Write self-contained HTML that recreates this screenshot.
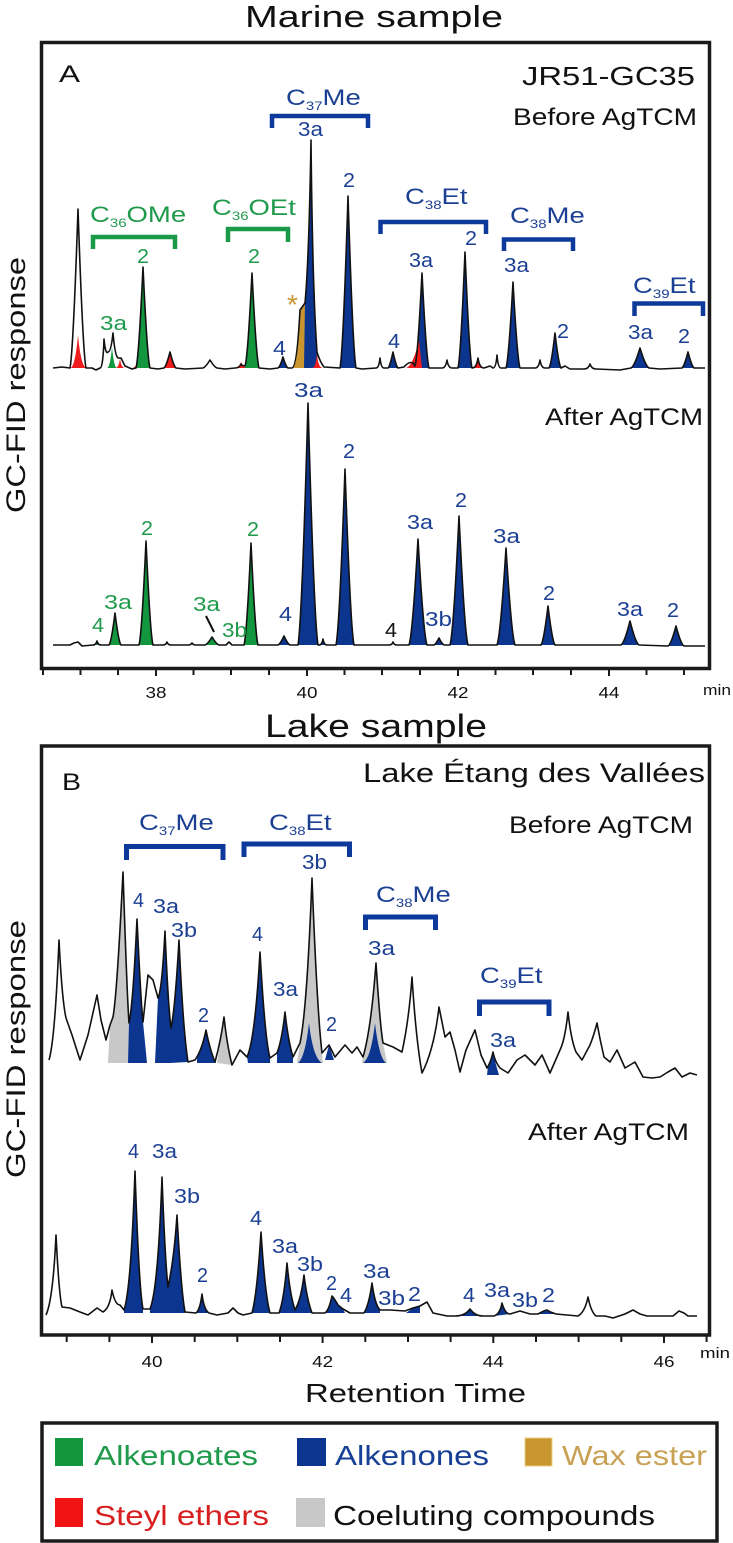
<!DOCTYPE html>
<html>
<head>
<meta charset="utf-8">
<style>
html,body{margin:0;padding:0;background:#fff;}
svg{display:block;}
text{font-family:"Liberation Sans",Arial,sans-serif;}
</style>
</head>
<body>
<svg width="733" height="1543" viewBox="0 0 733 1543" xmlns="http://www.w3.org/2000/svg">
<rect x="0" y="0" width="733" height="1543" fill="#fff"/>

<!-- Titles -->
<text x="245" y="27" font-size="31" fill="#111" textLength="258" lengthAdjust="spacingAndGlyphs">Marine sample</text>
<text x="265" y="737" font-size="32" fill="#111" textLength="222" lengthAdjust="spacingAndGlyphs">Lake sample</text>

<!-- Y labels -->
<text transform="translate(25,385) rotate(-90)" text-anchor="middle" font-size="27" fill="#111" textLength="256" lengthAdjust="spacingAndGlyphs">GC-FID response</text>
<text transform="translate(25,1049) rotate(-90)" text-anchor="middle" font-size="27" fill="#111" textLength="258" lengthAdjust="spacingAndGlyphs">GC-FID response</text>

<!-- Frames -->
<rect x="41.5" y="42.5" width="668" height="626" fill="none" stroke="#1a1a1a" stroke-width="3.5"/>
<rect x="41.5" y="746" width="668" height="589" fill="none" stroke="#1a1a1a" stroke-width="3.5"/>

<!-- Ticks A -->
<path d="M43,668V675 M80.5,668V675 M118,668V675 M156,668V676 M193.5,668V675 M231,668V675 M269,668V675 M307,668V676 M344.5,668V675 M382,668V675 M420,668V675 M458,668V676 M495.5,668V675 M533,668V675 M571,668V675 M609,668V676 M646.5,668V675 M684,668V675" stroke="#1a1a1a" stroke-width="2" fill="none"/>
<text x="156" y="698" font-size="16" text-anchor="middle" fill="#111" textLength="21" lengthAdjust="spacingAndGlyphs">38</text>
<text x="307" y="698" font-size="16" text-anchor="middle" fill="#111" textLength="21" lengthAdjust="spacingAndGlyphs">40</text>
<text x="458" y="698" font-size="16" text-anchor="middle" fill="#111" textLength="21" lengthAdjust="spacingAndGlyphs">42</text>
<text x="609" y="698" font-size="16" text-anchor="middle" fill="#111" textLength="21" lengthAdjust="spacingAndGlyphs">44</text>
<text x="703" y="695" font-size="15" fill="#111" textLength="28" lengthAdjust="spacingAndGlyphs">min</text>

<!-- Ticks B -->
<path d="M66.7,1335V1342 M109.4,1335V1342 M152,1335V1343 M194.7,1335V1342 M237.3,1335V1342 M280,1335V1342 M322.6,1335V1343 M365.3,1335V1342 M408,1335V1342 M450.6,1335V1342 M493.3,1335V1343 M536,1335V1342 M578.6,1335V1342 M621.3,1335V1342 M664,1335V1343 M706.6,1335V1342" stroke="#1a1a1a" stroke-width="2" fill="none"/>
<text x="152" y="1367" font-size="16" text-anchor="middle" fill="#111" textLength="21" lengthAdjust="spacingAndGlyphs">40</text>
<text x="322.6" y="1367" font-size="16" text-anchor="middle" fill="#111" textLength="21" lengthAdjust="spacingAndGlyphs">42</text>
<text x="493.3" y="1367" font-size="16" text-anchor="middle" fill="#111" textLength="21" lengthAdjust="spacingAndGlyphs">44</text>
<text x="664" y="1367" font-size="16" text-anchor="middle" fill="#111" textLength="21" lengthAdjust="spacingAndGlyphs">46</text>
<text x="700" y="1358" font-size="15" fill="#111" textLength="30" lengthAdjust="spacingAndGlyphs">min</text>

<text x="305" y="1402" font-size="26" fill="#111" textLength="221" lengthAdjust="spacingAndGlyphs">Retention Time</text>

<!-- Panel A headers -->
<text x="59" y="82" font-size="24" fill="#111" textLength="21" lengthAdjust="spacingAndGlyphs">A</text>
<text x="522" y="85" font-size="26" fill="#111" textLength="173" lengthAdjust="spacingAndGlyphs">JR51-GC35</text>
<text x="513" y="125" font-size="24" fill="#111" textLength="184" lengthAdjust="spacingAndGlyphs">Before AgTCM</text>
<text x="545" y="425" font-size="24" fill="#111" textLength="158" lengthAdjust="spacingAndGlyphs">After AgTCM</text>

<!-- Panel B headers -->
<text x="62" y="790" font-size="24" fill="#111" textLength="19" lengthAdjust="spacingAndGlyphs">B</text>
<text x="363" y="782" font-size="27" fill="#111" textLength="342" lengthAdjust="spacingAndGlyphs">Lake Étang des Vallées</text>
<text x="509" y="833" font-size="24" fill="#111" textLength="184" lengthAdjust="spacingAndGlyphs">Before AgTCM</text>
<text x="528" y="1140" font-size="24" fill="#111" textLength="161" lengthAdjust="spacingAndGlyphs">After AgTCM</text>

<!-- ============ Panel A BEFORE fills ============ -->
<g stroke="none">
<path fill="#ee1c1c" d="M70,368 Q75,368 78,335 Q81,368 87,368 Z"/>
<path fill="#12963e" d="M107,368 Q110,368 112,347 Q114,368 117,368 Z"/>
<path fill="#ee1c1c" d="M115,368 Q119,368 120,358 Q121,368 125,368 Z"/>
<path fill="#ee1c1c" d="M132,368 Q136,368 138,360 Q139,368 141,368 Z"/>
<path fill="#12963e" d="M136,368 Q138.8,358 143,267 Q147.2,358 150,368 Z"/>
<path fill="#ee1c1c" d="M164,368 Q166.4,366 170,352 Q173.6,366 176,368 Z"/>
<path fill="#ee1c1c" d="M233,368 Q239,368 241,362 Q243,368 248,368 Z"/>
<path fill="#12963e" d="M245,368 L245,366 Q247.8,358 252,273 Q256.2,358 259,368 Z"/>
<path fill="#0c3590" d="M278,368 Q280,367 283,357 Q286,367 288,368 Z"/>
<path fill="#c9952f" d="M292,368 Q297,367 300,310 L305,303 L307,300 L308,368 Z"/>
<path fill="#0c3590" d="M304,368 L305,303 Q309,260 311,140 Q312.5,290 317,352 L318,368 Z"/>
<path fill="#ee1c1c" d="M312,368 Q316,368 317,353 Q318,368 323,368 Z"/>
<path fill="#0c3590" d="M340,368 Q343.2,351 348,196 Q352.8,351 356,368 Z"/>
<path fill="#0c3590" d="M388,368 Q390,366 393,352 Q396,366 398,368 Z"/>
<path fill="#0c3590" d="M415,368 L415,366 Q417.8,357 422,273 Q426.2,358 429,368 Z"/>
<path fill="#ee1c1c" d="M406,368 Q413,366 419,340 L422,368 Z"/>
<path fill="#0c3590" d="M458,368 Q460.8,356 465,252 Q469.2,356 472,368 Z"/>
<path fill="#ee1c1c" d="M472,368 Q476.5,368 478,358 Q479.5,368 484,368 Z"/>
<path fill="#0c3590" d="M506,368 Q508.8,359 513,282 Q517.2,359 520,368 Z"/>
<path fill="#0c3590" d="M549,368 Q551.4,364.5 555,333 Q558.6,364.5 561,368 Z"/>
<path fill="#0c3590" d="M631,368 Q634.6,366 640,348 Q645.4,366 649,368 Z"/>
<path fill="#0c3590" d="M682,368 Q684.4,366 688,352 Q691.6,366 694,368 Z"/>
</g>
<!-- Panel A BEFORE trace -->
<path fill="none" stroke="#111" stroke-width="1.6" stroke-linejoin="round" d="M53,368 L62,367 L70,368 Q73.2,352 78,209 Q82.8,352 86,368 L92,368 L96,370 L100,368 Q103,368 104,339 Q105.5,355 108,352 Q111,352 113,333 Q115,356 118,358 L121,358 L125,366 L132,369 L136,368 Q138.8,358 143,267 Q147.2,358 150,368 L158,369 L164,368 Q166.4,366 170,352 Q173.6,366 176,368 L185,369 L203,368 Q205.8,367 210,360 Q214.2,367 217,368 L225,369 L235,368 Q239.5,368 241,364 Q242.5,366 245,366 Q247.8,358 252,273 Q256.2,358 259,368 L270,369 L278,368 Q280,367 283,357 Q286,367 288,368 L292,368 Q297,367 300,310 L305,303 Q309,260 311,140 Q312.5,290 317,352 Q320,362 324,367 L340,368 Q343.2,351 348,196 Q352.8,351 356,368 L362,369 L376,368 Q379,368 380,358 Q381,368 384,368 L388,368 Q390,366 393,352 Q396,366 398,368 L404,367 Q409,361 413,363 L415,366 Q417.8,357 422,273 Q426.2,358 429,368 L442,368 Q445.75,368 447,360 Q448.25,368 452,368 L458,368 Q460.8,356 465,252 Q469.2,356 472,368 Q476.5,368 478,358 Q479.5,368 484,368 L490,366 L493,368 Q496,368 497,355 Q498,368 501,368 L506,368 Q508.8,359 513,282 Q517.2,359 520,368 L535,368 Q538.75,368 540,360 Q541.25,368 545,368 L549,368 Q551.4,364.5 555,333 Q558.6,364.5 561,368 L565,366 L570,369 L584,369 Q588.5,369 590,364 Q591.5,369 596,369 L620,370 L631,368 Q634.6,366 640,348 Q645.4,366 649,368 L660,369 L682,368 Q684.4,366 688,352 Q691.6,366 694,368 L705,368"/>

<!-- Panel A BEFORE brackets -->
<g fill="none" stroke-width="4.5">
<path stroke="#1a9a48" d="M93,249 V237 H175 V249"/>
<path stroke="#1a9a48" d="M228,242 V229 H288 V242"/>
<path stroke="#0d3a9a" d="M272,128 V116 H368 V128"/>
<path stroke="#0d3a9a" d="M380.5,234 V222 H486 V234"/>
<path stroke="#0d3a9a" d="M504,251 V239.5 H573 V251"/>
<path stroke="#0d3a9a" d="M634.5,316 V303.5 H703 V316"/>
</g>

<!-- Panel A BEFORE labels -->
<g font-size="22" fill="#1f9a4b">
<g transform="translate(90,222) scale(1.25,1)"><text x="0" y="0">C<tspan font-size="12" dy="5">36</tspan><tspan dy="-5">OMe</tspan></text></g>
<g transform="translate(212,215) scale(1.25,1)"><text x="0" y="0">C<tspan font-size="12" dy="5">36</tspan><tspan dy="-5">OEt</tspan></text></g>
</g>
<g font-size="22" fill="#1b3f93">
<g transform="translate(286,105) scale(1.25,1)"><text x="0" y="0">C<tspan font-size="12" dy="5">37</tspan><tspan dy="-5">Me</tspan></text></g>
<g transform="translate(405,204) scale(1.25,1)"><text x="0" y="0">C<tspan font-size="12" dy="5">38</tspan><tspan dy="-5">Et</tspan></text></g>
<g transform="translate(510,223) scale(1.25,1)"><text x="0" y="0">C<tspan font-size="12" dy="5">38</tspan><tspan dy="-5">Me</tspan></text></g>
<g transform="translate(633,293) scale(1.25,1)"><text x="0" y="0">C<tspan font-size="12" dy="5">39</tspan><tspan dy="-5">Et</tspan></text></g>
</g>
<g font-size="20" fill="#1f9a4b">
<text x="100" y="330" textLength="27" lengthAdjust="spacingAndGlyphs">3a</text>
<text x="137" y="263" textLength="12" lengthAdjust="spacingAndGlyphs">2</text>
<text x="248" y="263" textLength="12" lengthAdjust="spacingAndGlyphs">2</text>
</g>
<text x="287" y="314" font-size="28" fill="#c9952f">*</text>
<g font-size="20" fill="#1b3f93">
<text x="273" y="355" textLength="13" lengthAdjust="spacingAndGlyphs">4</text>
<text x="298" y="136" textLength="25" lengthAdjust="spacingAndGlyphs">3a</text>
<text x="343" y="187" textLength="12" lengthAdjust="spacingAndGlyphs">2</text>
<text x="388" y="348" textLength="12" lengthAdjust="spacingAndGlyphs">4</text>
<text x="409" y="267" textLength="24" lengthAdjust="spacingAndGlyphs">3a</text>
<text x="465" y="245" textLength="12" lengthAdjust="spacingAndGlyphs">2</text>
<text x="504" y="272" textLength="25" lengthAdjust="spacingAndGlyphs">3a</text>
<text x="557" y="338" textLength="12" lengthAdjust="spacingAndGlyphs">2</text>
<text x="628" y="339" textLength="25" lengthAdjust="spacingAndGlyphs">3a</text>
<text x="678" y="343" textLength="12" lengthAdjust="spacingAndGlyphs">2</text>
</g>

<!-- ============ Panel A AFTER fills ============ -->
<g stroke="none">
<path fill="#12963e" d="M93,645 Q96,645 97,641 Q98,645 101,645 Z"/>
<path fill="#12963e" d="M109,645 Q111.4,642 115,613 Q118.6,642 121,645 Z"/>
<path fill="#12963e" d="M139,645 Q141.8,634.6 146,541 Q150.2,634.6 153,645 Z"/>
<path fill="#12963e" d="M205,645 Q207.8,644 212,637 Q216.2,644 219,645 Z"/>
<path fill="#12963e" d="M244,645 Q246.8,634.8 251,543 Q255.2,634.8 258,645 Z"/>
<path fill="#0c3590" d="M278,645 Q280.4,644 284,636 Q287.6,644 290,645 Z"/>
<path fill="#0c3590" d="M298,645 Q302,620.8 308,403 Q314,620.8 318,645 Z"/>
<path fill="#0c3590" d="M319,645 Q322,645 323,639 Q324,645 327,645 Z"/>
<path fill="#0c3590" d="M336,645 Q339.6,627.4 345,469 Q350.4,627.4 354,645 Z"/>
<path fill="#0c3590" d="M409,645 Q412.6,634.4 418,539 Q423.4,634.4 427,645 Z"/>
<path fill="#0c3590" d="M434,645 Q436,644 439,638 Q442,644 444,645 Z"/>
<path fill="#0c3590" d="M450,645 Q453.6,632 459,516 Q464.4,632 468,645 Z"/>
<path fill="#0c3590" d="M497,645 Q500.6,635.3 506,548 Q511.4,635.3 515,645 Z"/>
<path fill="#0c3590" d="M541,645 Q543.8,641 548,606 Q552.2,641 555,645 Z"/>
<path fill="#0c3590" d="M621,645 Q624.6,642.6 630,621 Q635.4,642.6 639,645 Z"/>
<path fill="#0c3590" d="M668,646 Q671.2,644 676,626 Q680.8,644 684,646 Z"/>
</g>
<path fill="none" stroke="#111" stroke-width="1.6" stroke-linejoin="round" d="M53,645 L70,645 L74,643 L78,642 L82,646 L93,645 Q96,645 97,641 Q98,645 101,645 L109,645 Q111.4,642 115,613 Q118.6,642 121,645 L139,645 Q141.8,634.6 146,541 Q150.2,634.6 153,645 L163,645 Q166,645 167,642 Q168,645 171,645 L188,645 Q191,645 192,643 Q193,645 196,645 L205,645 Q207.8,644 212,637 Q216.2,644 219,645 L226,645 L229,642 L232,645 L244,645 Q246.8,634.8 251,543 Q255.2,634.8 258,645 L278,645 Q280.4,644 284,636 Q287.6,644 290,645 L298,645 Q302,620.8 308,403 Q314,620.8 318,645 L319,645 Q322,645 323,639 Q324,645 327,645 L336,645 Q339.6,627.4 345,469 Q350.4,627.4 354,645 L389,645 Q392,645 393,642 Q394,645 397,645 L409,645 Q412.6,634.4 418,539 Q423.4,634.4 427,645 L434,645 Q436,644 439,638 Q442,644 444,645 L450,645 Q453.6,632 459,516 Q464.4,632 468,645 L497,645 Q500.6,635.3 506,548 Q511.4,635.3 515,645 L541,645 Q543.8,641 548,606 Q552.2,641 555,645 L621,645 Q624.6,642.6 630,621 Q635.4,642.6 639,645 L668,646 Q671.2,644 676,626 Q680.8,644 684,646 L705,646"/>

<!-- Panel A AFTER labels -->
<g font-size="20" fill="#1f9a4b">
<text x="92" y="632" textLength="12" lengthAdjust="spacingAndGlyphs">4</text>
<text x="104" y="609" textLength="28" lengthAdjust="spacingAndGlyphs">3a</text>
<text x="141" y="535" textLength="12" lengthAdjust="spacingAndGlyphs">2</text>
<text x="193" y="611" textLength="27" lengthAdjust="spacingAndGlyphs">3a</text>
<text x="222" y="637" textLength="25" lengthAdjust="spacingAndGlyphs">3b</text>
<text x="247" y="536" textLength="12" lengthAdjust="spacingAndGlyphs">2</text>
</g>
<path d="M206,616 L214,632" stroke="#111" stroke-width="2" fill="none"/>
<g font-size="20" fill="#1b3f93">
<text x="279" y="621" textLength="13" lengthAdjust="spacingAndGlyphs">4</text>
<text x="294" y="397" textLength="29" lengthAdjust="spacingAndGlyphs">3a</text>
<text x="343" y="458" textLength="12" lengthAdjust="spacingAndGlyphs">2</text>
<text x="407" y="529" textLength="26" lengthAdjust="spacingAndGlyphs">3a</text>
<text x="425" y="626" textLength="27" lengthAdjust="spacingAndGlyphs">3b</text>
<text x="455" y="507" textLength="12" lengthAdjust="spacingAndGlyphs">2</text>
<text x="493" y="543" textLength="27" lengthAdjust="spacingAndGlyphs">3a</text>
<text x="543" y="600" textLength="12" lengthAdjust="spacingAndGlyphs">2</text>
<text x="617" y="616" textLength="26" lengthAdjust="spacingAndGlyphs">3a</text>
<text x="667" y="617" textLength="12" lengthAdjust="spacingAndGlyphs">2</text>
</g>
<text x="385" y="637" font-size="20" fill="#111" textLength="12" lengthAdjust="spacingAndGlyphs">4</text>

<!-- ============ Panel B BEFORE fills ============ -->
<g stroke="none">
<path fill="#c8c8c8" d="M108,1063 L110,1025 L113,1017 Q117,995 123,872 Q127,995 129,1023 L129,1063 Z"/>
<path fill="#0c3590" d="M128,1063 L129,1023 Q133,1005 137,919 Q141,1005 143,1022 L147,1063 Z"/>
<path fill="#0c3590" d="M155,1063 L158,998 Q162,990 165,931 Q168,1005 171,1028 L171,1063 Z"/>
<path fill="#0c3590" d="M170,1063 L171,1028 Q175,1010 179,940 Q183,1030 188,1062 Z"/>
<path fill="#0c3590" d="M197,1063 L197,1058 Q202,1050 206,1030 Q210,1050 215,1062 L216,1063 Z"/>
<path fill="#c8c8c8" d="M217,1063 L218,1056 Q221,1040 224,1017 Q227,1045 232,1065 Z"/>
<path fill="#0c3590" d="M248,1063 L247,1057 Q255,1040 260,952 Q265,1040 270,1058 L270,1063 Z"/>
<path fill="#0c3590" d="M277,1063 L277,1053 Q282,1040 285,1012 Q288,1040 293,1057 L293,1063 Z"/>
<path fill="#c8c8c8" d="M297,1063 L300,1043 Q307,1010 312,878 Q317,1010 322,1053 L323,1063 Z"/>
<path fill="#0c3590" d="M298,1063 Q305,1058 309,1023 Q313,1058 322,1063 Z"/>
<path fill="#0c3590" d="M325,1060 L329,1045 L334,1060 Z"/>
<path fill="#c8c8c8" d="M362,1063 L363,1057 Q371,1030 376,963 Q380,1025 383,1043 L387,1063 Z"/>
<path fill="#0c3590" d="M363,1063 Q371,1058 375,1023 Q379,1058 386,1063 Z"/>
<path fill="#0c3590" d="M487,1075 L488,1066 Q491,1062 493,1052 Q495,1062 499,1075 Z"/>
</g>
<path fill="none" stroke="#111" stroke-width="1.6" stroke-linejoin="round" d="M49,1060 Q55,1040 59,940 Q62,1000 66,1018 L72,1035 L80,1060 L88,1035 L97,995 L101,1020 L106,1040 L110,1025 L113,1017 Q117,995 123,872 Q127,995 129,1023 Q133,1005 137,919 Q141,1005 143,1022 L148,975 L153,980 L158,998 Q162,990 165,931 Q168,1005 171,1028 Q175,1010 179,940 Q183,1030 188,1062 L195,1060 Q202,1050 206,1030 Q210,1050 215,1062 Q221,1040 224,1017 Q227,1045 232,1065 L240,1050 L247,1057 Q255,1040 260,952 Q265,1040 270,1058 L277,1053 Q282,1040 285,1012 Q288,1040 293,1057 L300,1043 Q307,1010 312,878 Q317,1010 322,1053 L329,1045 L335,1057 L345,1045 L352,1053 L357,1047 L363,1057 Q371,1030 376,963 Q380,1025 383,1043 L393,1047 L402,1052 Q409,1020 412,977 Q416,1040 422,1073 Q434,1050 439,1007 L445,1037 L450,1032 L455,1050 L460,1072 L466,1050 L475,1030 L481,1055 L487,1068 Q491,1062 493,1052 Q495,1062 500,1068 L508,1073 L517,1060 L525,1055 L535,1065 L542,1055 L550,1073 L560,1050 Q565,1040 568,1012 Q571,1040 576,1052 L582,1060 L590,1045 Q594,1035 597,1023 Q600,1040 604,1057 L610,1062 L617,1050 L625,1068 L635,1062 L643,1077 L652,1078 L660,1077 L668,1072 L675,1068 L682,1077 L690,1073 L697,1075"/>

<!-- Panel B BEFORE brackets -->
<g fill="none" stroke="#0d3a9a" stroke-width="5">
<path d="M126.5,860 V846.5 H223 V860"/>
<path d="M244,857 V844 H349.5 V857"/>
<path d="M365.5,930 V917 H435.5 V930"/>
<path d="M479.5,1016 V1002 H549 V1016"/>
</g>
<g font-size="22" fill="#1b3f93">
<g transform="translate(139,830) scale(1.25,1)"><text x="0" y="0">C<tspan font-size="12" dy="5">37</tspan><tspan dy="-5">Me</tspan></text></g>
<g transform="translate(269,830) scale(1.25,1)"><text x="0" y="0">C<tspan font-size="12" dy="5">38</tspan><tspan dy="-5">Et</tspan></text></g>
<g transform="translate(376,902) scale(1.25,1)"><text x="0" y="0">C<tspan font-size="12" dy="5">38</tspan><tspan dy="-5">Me</tspan></text></g>
<g transform="translate(480,983) scale(1.25,1)"><text x="0" y="0">C<tspan font-size="12" dy="5">39</tspan><tspan dy="-5">Et</tspan></text></g>
</g>
<g font-size="20" fill="#1b3f93">
<text x="302" y="869" textLength="25" lengthAdjust="spacingAndGlyphs">3b</text>
<text x="133" y="907" textLength="11" lengthAdjust="spacingAndGlyphs">4</text>
<text x="153" y="913" textLength="26" lengthAdjust="spacingAndGlyphs">3a</text>
<text x="171" y="937" textLength="26" lengthAdjust="spacingAndGlyphs">3b</text>
<text x="198" y="1022" textLength="11" lengthAdjust="spacingAndGlyphs">2</text>
<text x="252" y="941" textLength="11" lengthAdjust="spacingAndGlyphs">4</text>
<text x="273" y="996" textLength="25" lengthAdjust="spacingAndGlyphs">3a</text>
<text x="326" y="1031" textLength="11" lengthAdjust="spacingAndGlyphs">2</text>
<text x="368" y="955" textLength="27" lengthAdjust="spacingAndGlyphs">3a</text>
<text x="490" y="1047" textLength="26" lengthAdjust="spacingAndGlyphs">3a</text>
</g>

<!-- ============ Panel B AFTER fills ============ -->
<g stroke="none" fill="#0c3590">
<path d="M124,1313 L124,1310 Q131,1290 135,1171 Q139,1290 143,1309 L143,1313 Z"/>
<path d="M150,1313 L150,1309 Q158,1290 162,1177 Q165,1260 168,1287 Q174,1260 177,1215 Q181,1290 185,1312 L185,1313 Z"/>
<path d="M196,1313 Q200,1310 202,1294 Q204,1310 209,1313 Z"/>
<path d="M252,1313 Q257,1295 261,1232 Q265,1295 270,1313 Z"/>
<path d="M279,1313 Q284,1300 287,1263 Q290,1295 295,1310 L295,1313 Z"/>
<path d="M295,1313 L295,1310 Q301,1300 304,1275 Q307,1300 312,1313 Z"/>
<path d="M325,1313 Q329,1310 332,1296 Q334,1298 338,1305 L343,1309 L345,1313 Z"/>
<path d="M364,1313 Q369,1305 372,1283 Q375,1305 380,1310 L380,1313 Z"/>
<path d="M406,1313 L413,1308 L420,1306 L420,1313 Z"/>
<path d="M455,1316 Q465,1316 470,1309 Q475,1316 483,1316 Z"/>
<path d="M494,1316 Q500,1314 502,1303 Q505,1314 510,1314 Z"/>
<path d="M538,1314 Q545,1310 547,1310 Q550,1312 556,1314 Z"/>
</g>
<path fill="none" stroke="#111" stroke-width="1.6" stroke-linejoin="round" d="M46,1315 Q53,1300 56,1235 Q59,1295 62,1307 L70,1308 L80,1312 L88,1315 L97,1308 L103,1312 Q110,1308 112,1290 Q115,1305 120,1305 L124,1310 Q131,1290 135,1171 Q139,1290 143,1309 L150,1309 Q158,1290 162,1177 Q165,1260 168,1287 Q174,1260 177,1215 Q181,1290 185,1312 L196,1313 Q200,1310 202,1294 Q204,1310 209,1313 L217,1315 L228,1313 L233,1308 L238,1313 L243,1315 L252,1313 Q257,1295 261,1232 Q265,1295 270,1313 L279,1313 Q284,1300 287,1263 Q290,1295 295,1310 Q301,1300 304,1275 Q307,1300 312,1313 L325,1313 Q329,1310 332,1296 Q334,1298 338,1305 L343,1309 L350,1313 L364,1313 Q369,1305 372,1283 Q375,1305 380,1310 L390,1310 L405,1311 L413,1308 L420,1306 L427,1302 L433,1313 L447,1316 L455,1316 Q465,1316 470,1309 Q475,1316 483,1316 L494,1316 Q500,1314 502,1303 Q505,1314 510,1314 L520,1311 L530,1314 L538,1314 Q545,1310 547,1310 Q550,1312 556,1314 L578,1316 Q585,1312 588,1297 Q591,1312 596,1316 L605,1316 L613,1318 L625,1314 L633,1310 L640,1314 L647,1316 L673,1316 L679,1311 L684,1313 L688,1316 L697,1316"/>

<!-- Panel B AFTER labels -->
<g font-size="20" fill="#1b3f93">
<text x="128" y="1158" textLength="11" lengthAdjust="spacingAndGlyphs">4</text>
<text x="152" y="1158" textLength="25" lengthAdjust="spacingAndGlyphs">3a</text>
<text x="174" y="1203" textLength="26" lengthAdjust="spacingAndGlyphs">3b</text>
<text x="197" y="1282" textLength="11" lengthAdjust="spacingAndGlyphs">2</text>
<text x="250" y="1225" textLength="12" lengthAdjust="spacingAndGlyphs">4</text>
<text x="272" y="1253" textLength="26" lengthAdjust="spacingAndGlyphs">3a</text>
<text x="297" y="1271" textLength="26" lengthAdjust="spacingAndGlyphs">3b</text>
<text x="326" y="1290" textLength="11" lengthAdjust="spacingAndGlyphs">2</text>
<text x="340" y="1302" textLength="12" lengthAdjust="spacingAndGlyphs">4</text>
<text x="363" y="1278" textLength="27" lengthAdjust="spacingAndGlyphs">3a</text>
<text x="378" y="1305" textLength="27" lengthAdjust="spacingAndGlyphs">3b</text>
<text x="408" y="1301" textLength="13" lengthAdjust="spacingAndGlyphs">2</text>
<text x="463" y="1302" textLength="12" lengthAdjust="spacingAndGlyphs">4</text>
<text x="484" y="1297" textLength="26" lengthAdjust="spacingAndGlyphs">3a</text>
<text x="512" y="1307" textLength="26" lengthAdjust="spacingAndGlyphs">3b</text>
<text x="542" y="1302" textLength="13" lengthAdjust="spacingAndGlyphs">2</text>
</g>

<!-- ============ Legend ============ -->
<rect x="42" y="1423" width="675" height="118" fill="none" stroke="#1a1a1a" stroke-width="3.5"/>
<rect x="55" y="1438" width="28" height="28" fill="#12963e"/>
<rect x="297" y="1438" width="29" height="28" fill="#0c3590"/>
<rect x="525" y="1438" width="27" height="28" fill="#c9952f" stroke="#f0d080" stroke-width="1"/>
<rect x="55" y="1498" width="28" height="29" fill="#f01414"/>
<rect x="296" y="1498" width="29" height="29" fill="#c8c8c8"/>
<text x="94" y="1465" font-size="28" fill="#1f9a4b" textLength="164" lengthAdjust="spacingAndGlyphs">Alkenoates</text>
<text x="335" y="1465" font-size="28" fill="#173f95" textLength="154" lengthAdjust="spacingAndGlyphs">Alkenones</text>
<text x="562" y="1465" font-size="28" fill="#c9a154" textLength="145" lengthAdjust="spacingAndGlyphs">Wax ester</text>
<text x="94" y="1525" font-size="28" fill="#d81e1e" textLength="175" lengthAdjust="spacingAndGlyphs">Steyl ethers</text>
<text x="333" y="1525" font-size="28" fill="#111" textLength="322" lengthAdjust="spacingAndGlyphs">Coeluting compounds</text>
</svg>
</body>
</html>
